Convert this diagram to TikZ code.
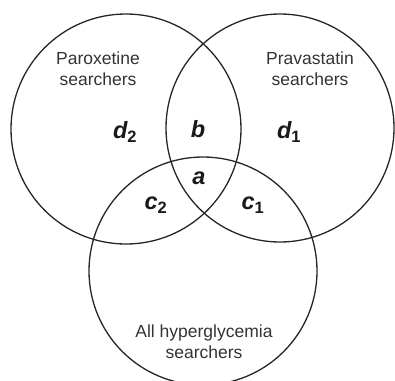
\documentclass[tikz,border=0pt]{standalone}
\usepackage{fontspec}
\setmainfont{Liberation Sans}
\begin{document}
\begin{tikzpicture}[x=1pt,y=-1pt,
  venn/.style={circle,draw=black!85,line width=1.3pt,inner sep=0pt,outer sep=0pt},
  lbl/.style={font=\fontsize{17.5}{21}\selectfont,align=center,text=black!80,inner sep=0pt},
  reg/.style={font=\fontsize{23.5}{26}\selectfont\bfseries,text=black!90,inner sep=0pt}]
\useasboundingbox (0,0) rectangle (395,380);
\clip (0,0) rectangle (395,380);
\node[venn,minimum size=230pt] (L) at (126,129) {};
\node[venn,minimum size=228pt] (R) at (280,128) {};
\node[venn,minimum size=228pt] (B) at (203,271) {};
\node[lbl] (tL) at (98,69) {Paroxetine\\searchers};
\node[lbl] (tR) at (310,69) {Pravastatin\\searchers};
\node[lbl] (tB) at (204,342) {All hyperglycemia\\searchers};
\node[reg] (d2) at (125,132) {\itshape d\textsubscript{\normalfont\bfseries 2}};
\node[reg] (b) at (198,129) {\itshape b};
\node[reg] (d1) at (289,132) {\itshape d\textsubscript{\normalfont\bfseries 1}};
\node[reg] (a) at (199,178) {\itshape a};
\node[reg] (c2) at (156,205) {\itshape c\textsubscript{\normalfont\bfseries 2}};
\node[reg] (c1) at (253,205) {\itshape c\textsubscript{\normalfont\bfseries 1}};
\end{tikzpicture}
\end{document}
